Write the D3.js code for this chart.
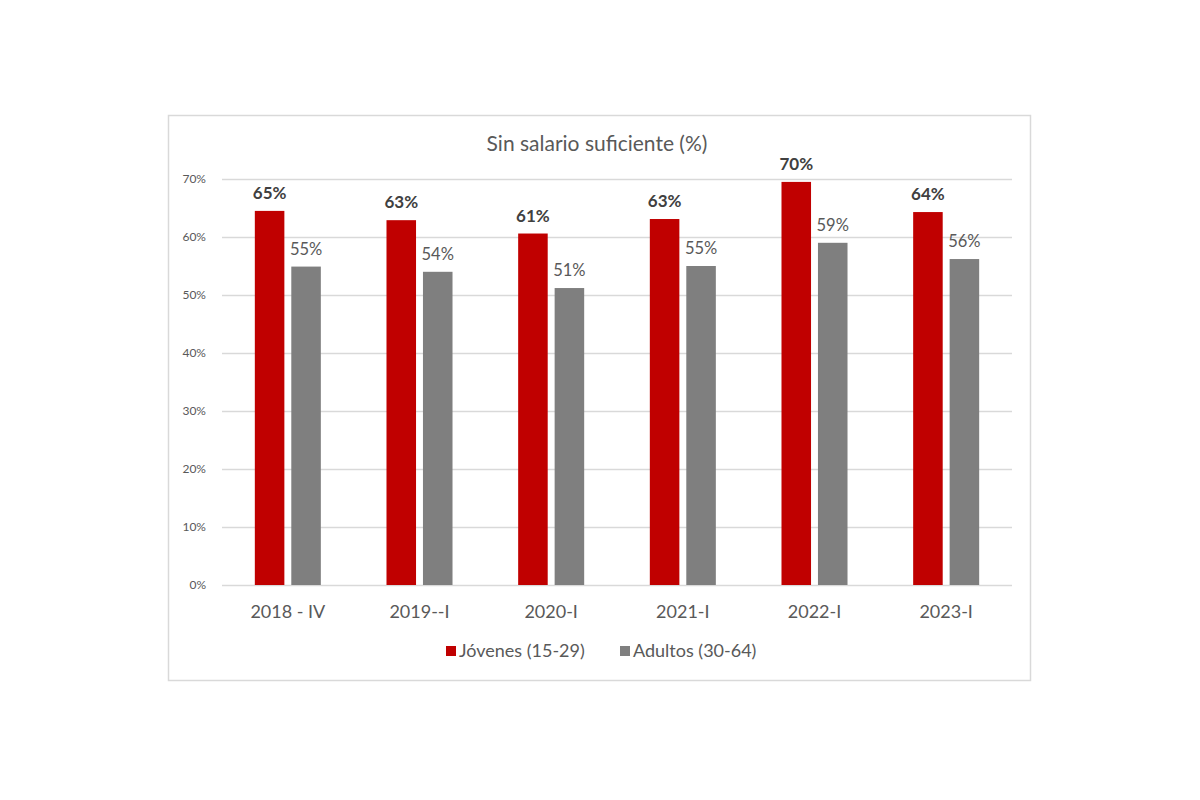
<!DOCTYPE html>
<html><head><meta charset="utf-8">
<script src="https://cdn.jsdelivr.net/npm/d3@7"></script>
<style>body{margin:0;background:#fff;} svg{display:block;}</style>
</head><body>
<svg id="c" width="1200" height="800"></svg>
<script>
const categories = ["2018 - IV", "2019--I", "2020-I", "2021-I", "2022-I", "2023-I"];
const seriesNames = ["Jóvenes (15-29)", "Adultos (30-64)"];
const jovenes = [64.5, 62.9, 60.6, 63.1, 69.5, 64.3];
const adultos = [54.9, 54.0, 51.2, 55.0, 59.0, 56.2];
const jovenesLabels = ["65%", "63%", "61%", "63%", "70%", "64%"];
const adultosLabels = ["55%", "54%", "51%", "55%", "59%", "56%"];
const yTicks = [0, 10, 20, 30, 40, 50, 60, 70];
const colors = ["#c00000", "#7f7f7f"];
const font = "Lato, 'Open Sans', sans-serif";

const svg = d3.select("#c");
svg.append("rect").attr("x", 168.5).attr("y", 115.5).attr("width", 862).attr("height", 565)
  .attr("fill", "#fff").attr("stroke", "#d9d9d9").attr("stroke-width", 1.5);

const L = 222, R = 1012, T = 179, B = 585;
const x = d3.scaleBand().domain(categories).range([L, R]).paddingInner(0).paddingOuter(0);
const y = d3.scaleLinear().domain([0, 70]).range([B, T]);
const xs = d3.scaleBand().domain([0, 1]).range([0, x.bandwidth()]).paddingInner(0.19).paddingOuter(0.9);

svg.append("text").attr("x", 597).attr("y", 151).attr("text-anchor", "middle")
  .attr("font-family", font).attr("font-size", 21).attr("fill", "#595959").text("Sin salario suficiente (%)");

const gy = svg.append("g").attr("transform", `translate(${L},0)`)
  .call(d3.axisLeft(y).tickValues(yTicks).tickSize(-(R - L)).tickFormat(d => d + "%"));
gy.select(".domain").remove();
gy.selectAll(".tick line").attr("stroke", "#d9d9d9").attr("stroke-width", 1.3);
gy.selectAll(".tick text").attr("x", -16).attr("font-family", font).attr("font-size", 12).attr("fill", "#595959");

const gx = svg.append("g").attr("transform", `translate(0,${B})`).call(d3.axisBottom(x).tickSize(0));
gx.select(".domain").remove();
gx.selectAll(".tick text").attr("dy", 0).attr("y", 33).attr("font-family", font).attr("font-size", 18).attr("fill", "#595959");

const series = [jovenes, adultos];
const labels = [jovenesLabels, adultosLabels];
series.forEach((vals, si) => {
  const g = svg.append("g");
  g.selectAll("rect").data(categories).join("rect")
    .attr("x", (c) => x(c) + xs(si)).attr("width", xs.bandwidth())
    .attr("y", (c, i) => y(vals[i])).attr("height", (c, i) => y(0) - y(vals[i]))
    .attr("fill", colors[si]);
  g.selectAll("text").data(categories).join("text")
    .attr("x", (c) => x(c) + xs(si) + xs.bandwidth() / 2)
    .attr("y", (c, i) => y(vals[i]) - 12)
    .attr("text-anchor", "middle").attr("font-family", font).attr("font-size", si === 0 ? 17 : 16.5)
    .attr("font-weight", si === 0 ? "bold" : "normal")
    .attr("fill", si === 0 ? "#404040" : "#595959")
    .text((c, i) => labels[si][i]);
});

const leg = svg.append("g").attr("transform", "translate(0,651)");
const legX = [446, 620];
seriesNames.forEach((n, i) => {
  leg.append("rect").attr("x", legX[i]).attr("y", -5).attr("width", 10).attr("height", 10).attr("fill", colors[i]);
  leg.append("text").attr("x", legX[i] + 13).attr("y", 6).attr("font-family", font).attr("font-size", 18)
    .attr("fill", "#595959").text(n);
});
</script>
</body></html>
